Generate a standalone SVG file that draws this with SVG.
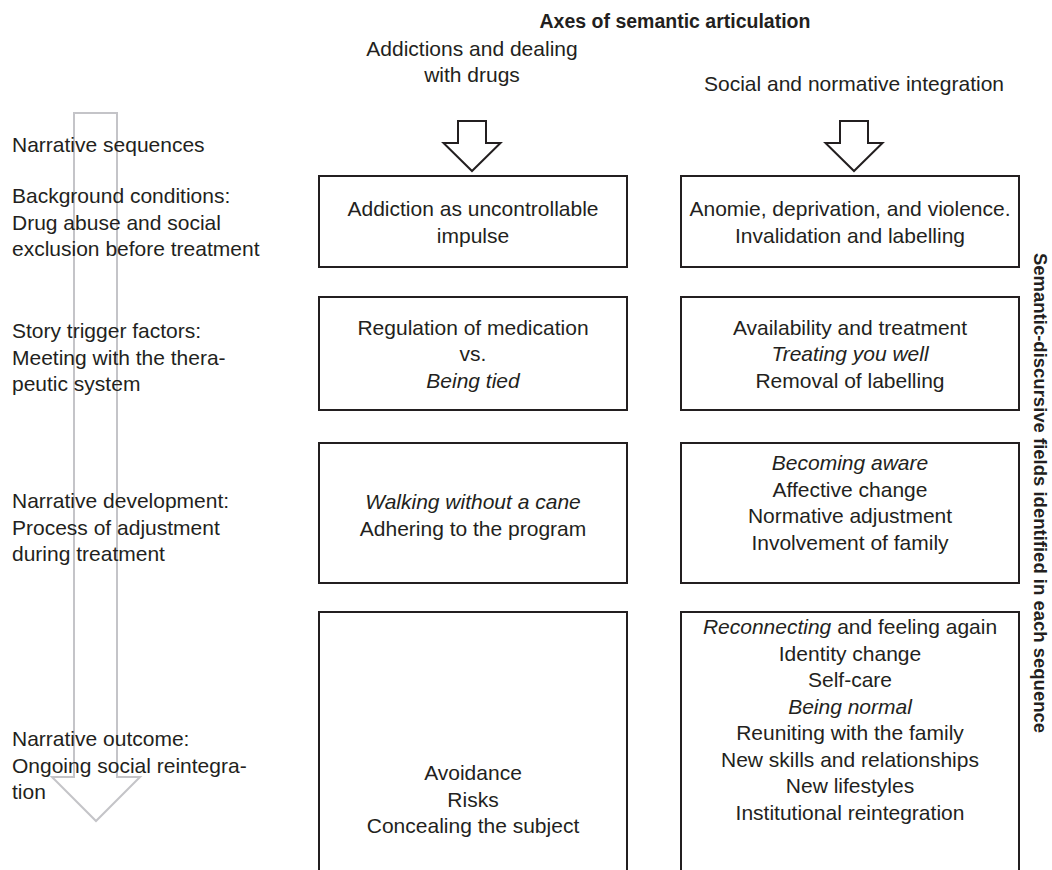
<svg xmlns="http://www.w3.org/2000/svg" width="1052" height="870" viewBox="0 0 1052 870">
<style>
text{font-family:"Liberation Sans",Arial,sans-serif;fill:#231f20}
.lbl{font-size:21px}
.bx{font-size:21px;text-anchor:middle}
.bold{font-weight:bold;font-size:19.5px;text-anchor:middle}
.vbold{font-weight:bold;font-size:18.5px;text-anchor:middle}
.box{fill:#fff;stroke:#231f20;stroke-width:2}
.harrow{fill:#fff;stroke:#231f20;stroke-width:2;stroke-linejoin:miter}
.garrow{fill:none;stroke:#c4c4c8;stroke-width:2}
.it{font-style:italic}
</style>
<rect width="1052" height="870" fill="#fff"/>
<g id="title"><text class="bold" x="675" y="28">Axes of semantic articulation</text></g>
<g id="side-title"><text class="vbold" transform="translate(1034,493) rotate(90)" x="0" y="0">Semantic-discursive fields identified in each sequence</text></g>
<g id="timeline-arrow"><path class="garrow" d="M74,113 L117,113 L117,777 L140,777 L96,821 L52,777 L74,777 Z"/></g>
<g id="labels">
<text class="lbl" x="12" y="152">Narrative sequences</text>
<text class="lbl" x="12" y="203">Background conditions:</text>
<text class="lbl" x="12" y="229.5">Drug abuse and social</text>
<text class="lbl" x="12" y="256">exclusion before treatment</text>
<text class="lbl" x="12" y="338">Story trigger factors:</text>
<text class="lbl" x="12" y="364.5">Meeting with the thera-</text>
<text class="lbl" x="12" y="391">peutic system</text>
<text class="lbl" x="12" y="508">Narrative development:</text>
<text class="lbl" x="12" y="534.5">Process of adjustment</text>
<text class="lbl" x="12" y="561">during treatment</text>
<text class="lbl" x="12" y="746">Narrative outcome:</text>
<text class="lbl" x="12" y="772.5">Ongoing social reintegra-</text>
<text class="lbl" x="12" y="799">tion</text>
</g>
<g id="axis1">
<text class="bx" x="472" y="56">Addictions and dealing</text>
<text class="bx" x="472" y="82">with drugs</text>
</g>
<g id="axis2">
<text class="bx" x="854" y="91">Social and normative integration</text>
</g>
<g id="connectors">
<path class="harrow" d="M458,121 L486,121 L486,143 L500.5,143 L472,171 L443.5,143 L458,143 Z"/>
<path class="harrow" d="M840,121 L868,121 L868,143 L882.5,143 L854,171 L825.5,143 L840,143 Z"/>
</g>
<g id="box-r1c1"><rect class="box" x="319" y="176" width="308" height="91"/>
<text class="bx" x="473" y="216">Addiction as uncontrollable</text>
<text class="bx" x="473" y="242.5">impulse</text></g>
<g id="box-r1c2"><rect class="box" x="681" y="176" width="338" height="91"/>
<text class="bx" x="850" y="216">Anomie, deprivation, and violence.</text>
<text class="bx" x="850" y="242.5">Invalidation and labelling</text></g>
<g id="box-r2c1"><rect class="box" x="319" y="297" width="308" height="113"/>
<text class="bx" x="473" y="334.5">Regulation of medication</text>
<text class="bx" x="473" y="361">vs.</text>
<text class="bx it" x="473" y="387.5">Being tied</text></g>
<g id="box-r2c2"><rect class="box" x="681" y="297" width="338" height="113"/>
<text class="bx" x="850" y="334.5">Availability and treatment</text>
<text class="bx it" x="850" y="361">Treating you well</text>
<text class="bx" x="850" y="387.5">Removal of labelling</text></g>
<g id="box-r3c1"><rect class="box" x="319" y="443" width="308" height="140"/>
<text class="bx it" x="473" y="509">Walking without a cane</text>
<text class="bx" x="473" y="535.5">Adhering to the program</text></g>
<g id="box-r3c2"><rect class="box" x="681" y="443" width="338" height="140"/>
<text class="bx it" x="850" y="470">Becoming aware</text>
<text class="bx" x="850" y="496.5">Affective change</text>
<text class="bx" x="850" y="523">Normative adjustment</text>
<text class="bx" x="850" y="549.5">Involvement of family</text></g>
<g id="box-r4c1"><path class="box" d="M319,872 L319,612 L627,612 L627,872"/>
<text class="bx" x="473" y="780">Avoidance</text>
<text class="bx" x="473" y="806.5">Risks</text>
<text class="bx" x="473" y="833">Concealing the subject</text></g>
<g id="box-r4c2"><path class="box" d="M681,872 L681,612 L1019,612 L1019,872"/>
<text class="bx" x="850" y="634"><tspan class="it">Reconnecting</tspan> and feeling again</text>
<text class="bx" x="850" y="660.5">Identity change</text>
<text class="bx" x="850" y="687">Self-care</text>
<text class="bx it" x="850" y="713.5">Being normal</text>
<text class="bx" x="850" y="740">Reuniting with the family</text>
<text class="bx" x="850" y="766.5">New skills and relationships</text>
<text class="bx" x="850" y="793">New lifestyles</text>
<text class="bx" x="850" y="819.5">Institutional reintegration</text></g>
</svg>
